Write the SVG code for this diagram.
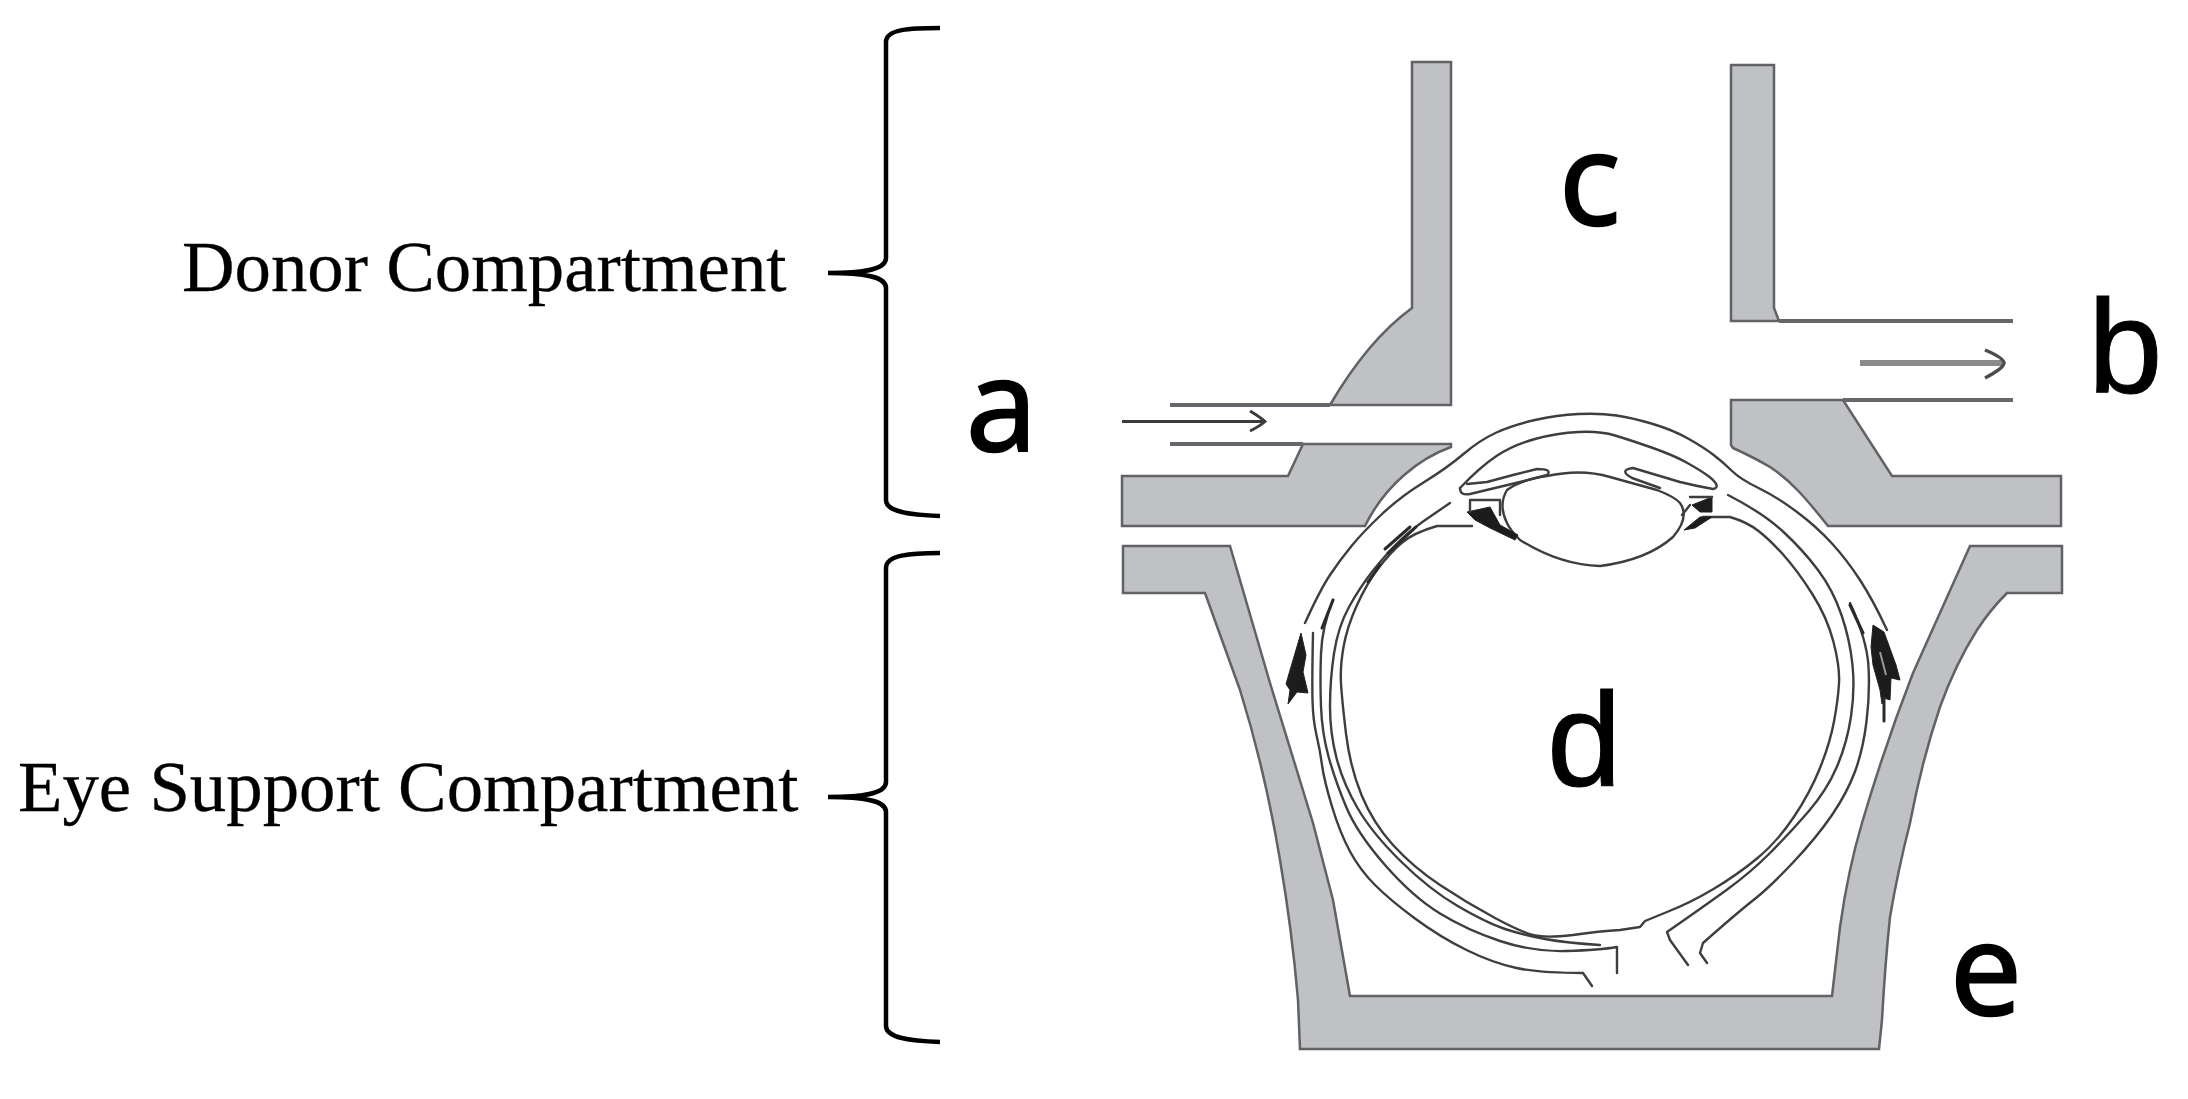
<svg xmlns="http://www.w3.org/2000/svg" width="2188" height="1099" viewBox="0 0 2188 1099">
<style>
.wall{fill:#c0c1c5;stroke:#616265;stroke-width:2.5;stroke-linejoin:miter}
.rule{fill:none;stroke:#66676a;stroke-width:4}
.eye{fill:none;stroke:#3e3e3e;stroke-width:2.4;stroke-linecap:round;stroke-linejoin:round}
.dark{fill:#1c1c1c;stroke:#222;stroke-width:1;stroke-linejoin:round}
.hatch{fill:none;stroke:#2a2a2a;stroke-width:3;stroke-linecap:round}
.gap{fill:none;stroke:#999;stroke-width:2}
.brace{fill:none;stroke:#000;stroke-width:4.5}
.serif{font-family:"Liberation Serif","Times New Roman",serif;font-size:72.8px;fill:#000;stroke:#000;stroke-width:.3}
.sans{font-family:"Open Sans","Noto Sans",sans-serif;font-size:128px;fill:#000;stroke:#000;stroke-width:2.5}
.arial{font-family:"Liberation Sans",Arial,sans-serif;font-size:134px;fill:#000;stroke:#000;stroke-width:1}
</style>
<rect width="2188" height="1099" fill="#fff"/>
<g id="donor-label"><text class="serif" x="182" y="291">Donor Compartment</text></g>
<g id="support-label"><text class="serif" x="18" y="811">Eye Support Compartment</text></g>
<g id="brace-donor"><path class="brace" d="M940 28C910 28 886 29 886 42V258C886 268 870 273 828 273C870 273 886 278 886 288V500C886 512 910 515 940 516"/></g>
<g id="brace-support"><path class="brace" d="M940 553C910 553 886 555 886 568V782C886 792 870 797 828 797C870 797 886 802 886 812V1026C886 1038 910 1041 940 1042"/></g>
<g id="label-a"><text class="sans" x="966" y="451">a</text></g>
<g id="label-b"><text class="arial" x="2088" y="393">b</text></g>
<g id="label-c"><text class="sans" x="1559" y="225">c</text></g>
<g id="label-d"><text class="arial" x="1547" y="786">d</text></g>
<g id="label-e"><text class="sans" x="1950" y="1015">e</text></g>
<g id="wall-top-left"><path class="wall" d="M1412 62H1451V405H1330Q1368 340 1412 308Z"/></g>
<g id="wall-top-right"><path class="wall" d="M1731 65H1774V308L1779 321H1731Z"/></g>
<g id="wall-mid-left"><path class="wall" d="M1303 444H1451V447C1420 458 1385 485 1365 526H1122V476H1288Z"/></g>
<g id="wall-mid-right"><path class="wall" d="M1731 400H1843L1892 476H2061V526H1828C1805 497 1790 480 1770 467Q1755 458 1733 448L1731 445Z"/></g>
<g id="wall-support"><path class="wall" d="M1123 546H1230L1270 683L1313 823L1333 900L1350 996H1832L1840 927Q1848 870 1862 823Q1885 745 1913 673L1970 546H2062V593H2007Q1990 610 1977 630Q1955 665 1940 707Q1922 760 1910 823Q1898 870 1890 917Q1885 965 1882 1020L1879 1049H1300L1298 1000Q1292 930 1280 860Q1265 770 1240 690L1205 593H1123Z"/></g>
<g id="channel-rules"><path class="rule" d="M1170 405H1330M1170 444H1303M1779 321H2013M1843 400H2013"/></g>
<g id="eye">
<path class="eye" d="M1305 623Q1320 590 1330 575Q1340 560 1351.500 546Q1363 532 1381.500 514.500Q1400 497 1423.500 482.500Q1447 468 1463.500 454Q1480 440 1496.500 432.500Q1513 425 1535 420Q1557 415 1578.500 414Q1600 413 1616.500 415.500Q1633 418 1653 424Q1673 430 1688 438.500Q1703 447 1713 454.500Q1723 462 1731.500 470.500Q1740 479 1758.500 488Q1777 497 1797 512Q1817 527 1832 543.500Q1847 560 1860 580Q1873 600 1887 630"/>
<path class="eye" d="M1460 488Q1480 467 1496.500 456Q1513 445 1535 439Q1557 433 1578.500 432Q1600 431 1615 435.500Q1630 440 1651.500 447.500Q1673 455 1686.500 462.500Q1700 470 1709 476.500Q1722 487 1713 489Q1696 486 1680 482L1633 468Q1618 470 1632 478L1660 488"/>
<path class="eye" d="M1460 488Q1460 496 1470 494L1520 482L1547 475Q1553 469 1537 469L1513 475L1487 482L1467 484"/>
<path class="eye" d="M1547 476C1570 471 1590 471 1610 477L1657 490Q1675 497 1680 503Q1690 517 1673 537Q1647 560 1600 566Q1560 565 1520 540Q1510 530 1507 523Q1498 505 1507 490Q1520 480 1547 476Z"/>
<path class="eye" d="M1472 526L1437 526Q1413 533 1401.500 543Q1390 553 1378.500 568Q1367 583 1357 605Q1347 627 1343.500 647Q1340 667 1341 683.500Q1342 700 1346 733.500Q1350 767 1361.500 795Q1373 823 1393 845Q1413 867 1440 885Q1467 903 1495 918Q1523 933 1535 935.500Q1547 938 1573 935Q1600 931 1620 930L1640 927L1645 921L1667 912Q1690 903 1713.500 889Q1737 875 1757 858.500Q1777 842 1793.500 817.500Q1810 793 1820 768Q1830 743 1834 721.500Q1838 700 1839 683.500Q1840 667 1833.500 642Q1827 617 1812 593.500Q1797 570 1783.500 555Q1770 540 1758.500 531Q1747 522 1730 517L1703 517"/>
<path class="eye" d="M1450 503L1431 516Q1413 528 1400 540.500Q1387 553 1373.500 570Q1360 587 1349 607Q1338 627 1334 653.500Q1330 680 1330 706.500Q1330 733 1336.500 758Q1343 783 1357.500 808Q1372 833 1401 861.500Q1430 890 1458.500 906.500Q1487 923 1505 929Q1523 935 1545 939Q1567 943 1600 945"/>
<path class="eye" d="M1333 600Q1322 627 1321 653.500Q1320 680 1321 706.500Q1322 733 1328.500 756.500Q1335 780 1346 806.500Q1357 833 1385 865Q1413 897 1440 913.500Q1467 930 1500 941Q1533 952 1566.500 951Q1600 950 1617 947V973"/>
<path class="eye" d="M1313 633Q1312 680 1312.500 700Q1313 720 1316.500 735Q1320 750 1322 765Q1324 780 1332 806.500Q1340 833 1350 851.500Q1360 870 1375 885Q1390 900 1415 918.500Q1440 937 1466.500 950Q1493 963 1516.500 968Q1540 973 1583 973L1592 986"/>
<path class="eye" d="M1728 495Q1763 513 1783 531.500Q1803 550 1818 570Q1833 590 1841.500 615Q1850 640 1852.500 665Q1855 690 1851 716.500Q1847 743 1837 766.500Q1827 790 1808.500 811.500Q1790 833 1770 853Q1750 873 1726.500 890Q1703 907 1667 932L1670 940L1688 965"/>
<path class="eye" d="M1850 603Q1867 640 1868.500 666.500Q1870 693 1866.500 721.500Q1863 750 1855 771.500Q1847 793 1832 815Q1817 837 1793.500 862Q1770 887 1753.500 900Q1737 913 1703 943L1700 953L1707 963"/>
<path class="hatch" d="M1416 527L1388 553M1410 527L1385 549M1380 565L1368 582"/>
<path class="dark" d="M1301 633L1306 655L1303 672L1308 693L1297 692L1288 704L1290 690L1286 684L1293 660Z"/>
<path class="dark" d="M1873 625L1884 632L1896 665L1900 680L1891 678L1890 700L1884 698L1882 704L1880 690L1873 665L1871 647Z"/>
<path class="gap" d="M1880 652L1886 675"/>
<path class="hatch" d="M1850 605L1863 633M1333 600L1322 628M1884 698L1884 721"/>
<path class="dark" d="M1467 512L1490 507L1500 525L1518 535L1515 540L1490 528L1475 520Z"/>
<path class="eye" d="M1470 512V500H1500V515"/>
<path class="dark" d="M1692 505L1712 497V512H1700Z"/>
<path class="dark" d="M1684 530L1700 517H1712L1695 528Z"/>
<path class="eye" d="M1690 505L1682 515M1690 497H1712"/>
</g>
<g id="connectors">
<path fill="none" stroke="#3c3c3c" stroke-width="3" d="M1122 421.500H1264M1250 411Q1260 417 1265 421.500Q1260 426 1250 431"/>
<path fill="none" stroke="#8a8b8d" stroke-width="6" d="M1860 363H2002"/>
<path fill="none" stroke="#4c4c4c" stroke-width="3.500" d="M1985 350Q2004 358 2004 363Q2004 368 1985 378"/>
</g>
</svg>
